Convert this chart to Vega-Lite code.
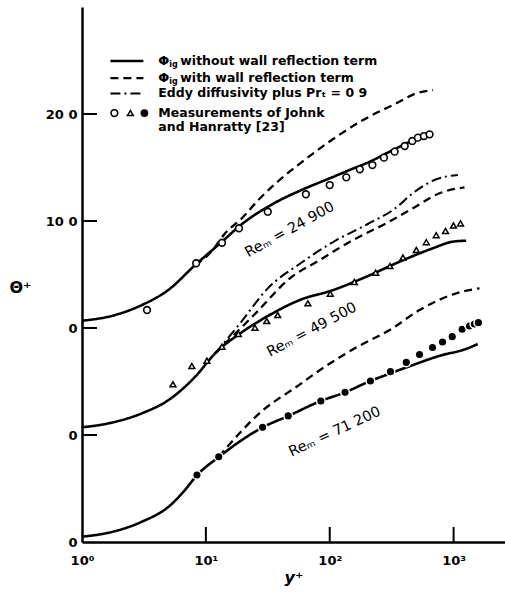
{
  "$schema": "https://vega.github.io/schema/vega-lite/v6.json",
  "width": 423,
  "height": 535,
  "autosize": {"type": "none"},
  "padding": {"left": 82, "top": 7, "right": 0, "bottom": 50},
  "background": "white",
  "config": {
    "view": {"stroke": null},
    "font": "DejaVu Sans",
    "axis": {
      "grid": false,
      "ticks": false,
      "domainColor": "black",
      "domainWidth": 2.5,
      "labelColor": "black",
      "labelFont": "DejaVu Sans",
      "labelFontWeight": "bold",
      "labelFontSize": 13,
      "titleColor": "black"
    }
  },
  "datasets": {
    "curves": [
      {"re": "24900", "kind": "solid", "x": 1.0, "y": 20.68},
      {"re": "24900", "kind": "solid", "x": 1.64, "y": 21.06},
      {"re": "24900", "kind": "solid", "x": 3.05, "y": 22.15},
      {"re": "24900", "kind": "solid", "x": 4.97, "y": 23.55},
      {"re": "24900", "kind": "solid", "x": 8.2, "y": 25.89},
      {"re": "24900", "kind": "solid", "x": 13.5, "y": 28.07},
      {"re": "24900", "kind": "solid", "x": 19.5, "y": 29.7},
      {"re": "24900", "kind": "solid", "x": 36.1, "y": 31.7},
      {"re": "24900", "kind": "solid", "x": 60.7, "y": 32.95},
      {"re": "24900", "kind": "solid", "x": 100, "y": 33.99},
      {"re": "24900", "kind": "solid", "x": 145, "y": 34.77},
      {"re": "24900", "kind": "solid", "x": 210, "y": 35.54},
      {"re": "24900", "kind": "solid", "x": 305, "y": 36.48},
      {"re": "24900", "kind": "solid", "x": 442, "y": 37.41},
      {"re": "24900", "kind": "dashed", "x": 8.2, "y": 25.89},
      {"re": "24900", "kind": "dashed", "x": 11.0, "y": 27.1},
      {"re": "24900", "kind": "dashed", "x": 14.3, "y": 28.85},
      {"re": "24900", "kind": "dashed", "x": 19.5, "y": 30.25},
      {"re": "24900", "kind": "dashed", "x": 26.5, "y": 31.96},
      {"re": "24900", "kind": "dashed", "x": 36.1, "y": 33.45},
      {"re": "24900", "kind": "dashed", "x": 61.1, "y": 35.61},
      {"re": "24900", "kind": "dashed", "x": 113.5, "y": 37.88},
      {"re": "24900", "kind": "dashed", "x": 186, "y": 39.44},
      {"re": "24900", "kind": "dashed", "x": 345, "y": 41.0},
      {"re": "24900", "kind": "dashed", "x": 500, "y": 41.93},
      {"re": "24900", "kind": "dashed", "x": 681, "y": 42.24},
      {"re": "49500", "kind": "solid", "x": 1.0, "y": 10.72},
      {"re": "49500", "kind": "solid", "x": 1.64, "y": 11.09},
      {"re": "49500", "kind": "solid", "x": 3.05, "y": 12.03},
      {"re": "49500", "kind": "solid", "x": 5.0, "y": 13.27},
      {"re": "49500", "kind": "solid", "x": 8.2, "y": 15.45},
      {"re": "49500", "kind": "solid", "x": 11.9, "y": 17.64},
      {"re": "49500", "kind": "solid", "x": 19.5, "y": 19.6},
      {"re": "49500", "kind": "solid", "x": 31.0, "y": 21.06},
      {"re": "49500", "kind": "solid", "x": 57.4, "y": 22.62},
      {"re": "49500", "kind": "solid", "x": 106.5, "y": 23.55},
      {"re": "49500", "kind": "solid", "x": 198, "y": 24.8},
      {"re": "49500", "kind": "solid", "x": 367, "y": 26.2},
      {"re": "49500", "kind": "solid", "x": 680, "y": 27.45},
      {"re": "49500", "kind": "solid", "x": 986, "y": 28.07},
      {"re": "49500", "kind": "solid", "x": 1263, "y": 28.16},
      {"re": "49500", "kind": "dashdot", "x": 11.9, "y": 17.64},
      {"re": "49500", "kind": "dashdot", "x": 18.9, "y": 20.44},
      {"re": "49500", "kind": "dashdot", "x": 31.8, "y": 23.74},
      {"re": "49500", "kind": "dashdot", "x": 58.5, "y": 26.07},
      {"re": "49500", "kind": "dashdot", "x": 110, "y": 28.13},
      {"re": "49500", "kind": "dashdot", "x": 203, "y": 29.72},
      {"re": "49500", "kind": "dashdot", "x": 335, "y": 31.15},
      {"re": "49500", "kind": "dashdot", "x": 469, "y": 32.6},
      {"re": "49500", "kind": "dashdot", "x": 724, "y": 33.9},
      {"re": "49500", "kind": "dashdot", "x": 1081, "y": 34.3},
      {"re": "49500", "kind": "dashed", "x": 11.9, "y": 17.64},
      {"re": "49500", "kind": "dashed", "x": 24.9, "y": 21.31},
      {"re": "49500", "kind": "dashed", "x": 47.7, "y": 24.64},
      {"re": "49500", "kind": "dashed", "x": 83.2, "y": 26.36},
      {"re": "49500", "kind": "dashed", "x": 154, "y": 28.22},
      {"re": "49500", "kind": "dashed", "x": 286, "y": 29.79},
      {"re": "49500", "kind": "dashed", "x": 469, "y": 31.19},
      {"re": "49500", "kind": "dashed", "x": 769, "y": 32.59},
      {"re": "49500", "kind": "dashed", "x": 1224, "y": 33.15},
      {"re": "71200", "kind": "solid", "x": 1.0, "y": 0.5},
      {"re": "71200", "kind": "solid", "x": 1.64, "y": 0.87},
      {"re": "71200", "kind": "solid", "x": 3.05, "y": 1.9},
      {"re": "71200", "kind": "solid", "x": 5.0, "y": 3.3},
      {"re": "71200", "kind": "solid", "x": 6.6, "y": 4.7},
      {"re": "71200", "kind": "solid", "x": 8.51, "y": 6.26},
      {"re": "71200", "kind": "solid", "x": 12.8, "y": 7.97},
      {"re": "71200", "kind": "solid", "x": 28.8, "y": 10.72},
      {"re": "71200", "kind": "solid", "x": 46.2, "y": 11.78},
      {"re": "71200", "kind": "solid", "x": 84.8, "y": 13.18},
      {"re": "71200", "kind": "solid", "x": 133, "y": 13.99},
      {"re": "71200", "kind": "solid", "x": 213, "y": 15.05},
      {"re": "71200", "kind": "solid", "x": 278, "y": 15.56},
      {"re": "71200", "kind": "solid", "x": 469, "y": 16.54},
      {"re": "71200", "kind": "solid", "x": 814, "y": 17.48},
      {"re": "71200", "kind": "solid", "x": 1186, "y": 17.94},
      {"re": "71200", "kind": "solid", "x": 1566, "y": 18.5},
      {"re": "71200", "kind": "dashed", "x": 12.7, "y": 7.97},
      {"re": "71200", "kind": "dashed", "x": 29.1, "y": 12.34},
      {"re": "71200", "kind": "dashed", "x": 54.0, "y": 14.51},
      {"re": "71200", "kind": "dashed", "x": 91.4, "y": 16.38},
      {"re": "71200", "kind": "dashed", "x": 168, "y": 18.25},
      {"re": "71200", "kind": "dashed", "x": 305, "y": 19.81},
      {"re": "71200", "kind": "dashed", "x": 531, "y": 21.68},
      {"re": "71200", "kind": "dashed", "x": 1050, "y": 23.24},
      {"re": "71200", "kind": "dashed", "x": 1618, "y": 23.71}
    ],
    "meas": [
      {"re": "24900", "x": 3.35, "y": 21.68},
      {"re": "24900", "x": 8.35, "y": 26.05},
      {"re": "24900", "x": 13.5, "y": 27.97},
      {"re": "24900", "x": 18.5, "y": 29.32},
      {"re": "24900", "x": 31.6, "y": 30.87},
      {"re": "24900", "x": 64.2, "y": 32.5},
      {"re": "24900", "x": 100, "y": 33.36},
      {"re": "24900", "x": 136, "y": 34.08},
      {"re": "24900", "x": 175, "y": 34.83},
      {"re": "24900", "x": 221, "y": 35.23},
      {"re": "24900", "x": 274, "y": 35.92},
      {"re": "24900", "x": 334, "y": 36.48},
      {"re": "24900", "x": 403, "y": 37.01},
      {"re": "24900", "x": 464, "y": 37.48},
      {"re": "24900", "x": 515, "y": 37.79},
      {"re": "24900", "x": 576, "y": 37.94},
      {"re": "24900", "x": 640, "y": 38.1},
      {"re": "49500", "x": 5.42, "y": 14.74},
      {"re": "49500", "x": 7.71, "y": 16.45},
      {"re": "49500", "x": 10.2, "y": 16.94},
      {"re": "49500", "x": 13.5, "y": 18.25},
      {"re": "49500", "x": 18.3, "y": 19.44},
      {"re": "49500", "x": 24.9, "y": 20.03},
      {"re": "49500", "x": 31.0, "y": 20.65},
      {"re": "49500", "x": 38.0, "y": 21.21},
      {"re": "49500", "x": 66.6, "y": 22.31},
      {"re": "49500", "x": 101, "y": 23.21},
      {"re": "49500", "x": 158, "y": 24.3},
      {"re": "49500", "x": 235, "y": 25.17},
      {"re": "49500", "x": 306, "y": 25.79},
      {"re": "49500", "x": 390, "y": 26.59},
      {"re": "49500", "x": 500, "y": 27.29},
      {"re": "49500", "x": 602, "y": 28.02},
      {"re": "49500", "x": 724, "y": 28.67},
      {"re": "49500", "x": 861, "y": 29.07},
      {"re": "49500", "x": 998, "y": 29.58},
      {"re": "49500", "x": 1137, "y": 29.78},
      {"re": "71200", "x": 8.47, "y": 6.26},
      {"re": "71200", "x": 12.7, "y": 7.97},
      {"re": "71200", "x": 28.7, "y": 10.72},
      {"re": "71200", "x": 46.2, "y": 11.78},
      {"re": "71200", "x": 84.8, "y": 13.18},
      {"re": "71200", "x": 133, "y": 13.99},
      {"re": "71200", "x": 213, "y": 15.05},
      {"re": "71200", "x": 309, "y": 15.92},
      {"re": "71200", "x": 415, "y": 16.78},
      {"re": "71200", "x": 531, "y": 17.52},
      {"re": "71200", "x": 676, "y": 18.18},
      {"re": "71200", "x": 814, "y": 18.69},
      {"re": "71200", "x": 975, "y": 19.19},
      {"re": "71200", "x": 1173, "y": 19.88},
      {"re": "71200", "x": 1342, "y": 20.19},
      {"re": "71200", "x": 1473, "y": 20.37},
      {"re": "71200", "x": 1585, "y": 20.5}
    ],
    "yTickPts": [
      {"x": 1, "y": 10}, {"x": 1, "y": 20}, {"x": 1, "y": 30}, {"x": 1, "y": 40}
    ],
    "xTickPts": [
      {"x": 10, "y": 0}, {"x": 100, "y": 0}, {"x": 1000, "y": 0}
    ],
    "legendLines": [
      {"kind": "solid", "x": 1.696, "y": 44.95},
      {"kind": "solid", "x": 3.13, "y": 44.95},
      {"kind": "dashed", "x": 1.696, "y": 43.36},
      {"kind": "dashed", "x": 3.13, "y": 43.36},
      {"kind": "dashdot", "x": 1.696, "y": 41.92},
      {"kind": "dashdot", "x": 3.13, "y": 41.92}
    ],
    "legendSym": [
      {"re": "24900", "x": 1.826, "y": 40.09},
      {"re": "49500", "x": 2.457, "y": 40.09},
      {"re": "71200", "x": 3.19, "y": 40.09}
    ],
    "legendPhi": [
      {"x": 4.13, "y": 44.95, "rest": "without wall reflection term"},
      {"x": 4.13, "y": 43.36, "rest": "with wall reflection term"}
    ],
    "legendText": [
      {"x": 4.13, "y": 41.92, "text": "Eddy diffusivity plus Prₜ = 0 9"},
      {"x": 4.13, "y": 40.09, "text": "Measurements of Johnk"},
      {"x": 4.13, "y": 38.83, "text": "and Hanratty [23]"}
    ],
    "reLabels": [
      {"re": "24900", "x": 47.7, "y": 29.16, "text": "Reₘ = 24 900"},
      {"re": "49500", "x": 71.8, "y": 19.81, "text": "Reₘ = 49 500"},
      {"re": "71200", "x": 110, "y": 10.28, "text": "Reₘ = 71 200"}
    ]
  },
  "encoding": {
    "x": {
      "field": "x", "type": "quantitative",
      "scale": {"type": "log", "domain": [1, 2600], "nice": false},
      "axis": {
        "values": [1, 10, 100, 1000],
        "labelExpr": "datum.value == 1 ? '10⁰' : datum.value == 10 ? '10¹' : datum.value == 100 ? '10²' : '10³'",
        "labelPadding": 12,
        "labelFlush": false,
        "title": "y⁺",
        "titleFontStyle": "italic",
        "titleFontWeight": "bold",
        "titleFontSize": 16,
        "titlePadding": 2
      }
    },
    "y": {
      "field": "y", "type": "quantitative",
      "scale": {"domain": [0, 50], "nice": false, "zero": false},
      "axis": {
        "values": [0, 10, 20, 30, 40],
        "labelExpr": "datum.value == 30 ? '10 0' : datum.value == 40 ? '20 0' : '0'",
        "labelPadding": 5,
        "labelFlush": false,
        "title": "Θ⁺",
        "titleAngle": 0,
        "titleAlign": "center",
        "titleBaseline": "middle",
        "titleX": -62,
        "titleY": 280,
        "titleFontSize": 16,
        "titleFontWeight": "bold"
      }
    }
  },
  "layer": [
    {
      "data": {"name": "curves"},
      "mark": {"type": "line", "color": "black", "strokeCap": "butt", "interpolate": "monotone"},
      "encoding": {
        "detail": {"field": "re", "type": "nominal"},
        "strokeDash": {"field": "kind", "type": "nominal", "scale": {"domain": ["solid", "dashed", "dashdot"], "range": [[1, 0], [8, 5], [10, 4, 2, 4]]}, "legend": null},
        "strokeWidth": {"field": "kind", "type": "nominal", "scale": {"domain": ["solid", "dashed", "dashdot"], "range": [2.6, 2, 2]}, "legend": null}
      }
    },
    {
      "data": {"name": "legendLines"},
      "mark": {"type": "line", "color": "black", "strokeCap": "butt"},
      "encoding": {
        "strokeDash": {"field": "kind", "type": "nominal", "scale": {"domain": ["solid", "dashed", "dashdot"], "range": [[1, 0], [8, 5], [10, 4, 2, 4]]}, "legend": null},
        "strokeWidth": {"field": "kind", "type": "nominal", "scale": {"domain": ["solid", "dashed", "dashdot"], "range": [2.6, 2, 2]}, "legend": null}
      }
    },
    {
      "data": {"name": "yTickPts"},
      "mark": {"type": "point", "shape": "M0,0L1,0", "filled": false, "stroke": "black", "strokeWidth": 2, "size": 900, "opacity": 1}
    },
    {
      "data": {"name": "xTickPts"},
      "mark": {"type": "point", "shape": "M0,0L0,-1", "filled": false, "stroke": "black", "strokeWidth": 2, "size": 900, "opacity": 1}
    },
    {
      "data": {"name": "meas"},
      "transform": [{"filter": "datum.re == '24900'"}],
      "mark": {"type": "point", "shape": "circle", "filled": true, "fill": "white", "stroke": "black", "strokeWidth": 1.6, "size": 45, "opacity": 1}
    },
    {
      "data": {"name": "meas"},
      "transform": [{"filter": "datum.re == '49500'"}],
      "mark": {"type": "point", "shape": "triangle-up", "filled": true, "fill": "white", "stroke": "black", "strokeWidth": 1.5, "size": 34, "opacity": 1}
    },
    {
      "data": {"name": "meas"},
      "transform": [{"filter": "datum.re == '71200'"}],
      "mark": {"type": "point", "shape": "circle", "filled": true, "fill": "black", "stroke": "white", "strokeWidth": 1.5, "size": 75, "opacity": 1}
    },
    {
      "data": {"name": "legendSym"},
      "transform": [{"filter": "datum.re == '24900'"}],
      "mark": {"type": "point", "shape": "circle", "filled": true, "fill": "white", "stroke": "black", "strokeWidth": 1.6, "size": 45, "opacity": 1}
    },
    {
      "data": {"name": "legendSym"},
      "transform": [{"filter": "datum.re == '49500'"}],
      "mark": {"type": "point", "shape": "triangle-up", "filled": true, "fill": "white", "stroke": "black", "strokeWidth": 1.5, "size": 34, "opacity": 1}
    },
    {
      "data": {"name": "legendSym"},
      "transform": [{"filter": "datum.re == '71200'"}],
      "mark": {"type": "point", "shape": "circle", "filled": true, "fill": "black", "size": 60, "opacity": 1}
    },
    {
      "data": {"name": "legendPhi"},
      "mark": {"type": "text", "text": "Φ", "align": "left", "baseline": "middle", "fontSize": 13, "fontWeight": "bold", "color": "black"}
    },
    {
      "data": {"name": "legendPhi"},
      "mark": {"type": "text", "text": "ig", "align": "left", "baseline": "middle", "fontSize": 8, "fontWeight": "bold", "dx": 11, "dy": 4, "color": "black"}
    },
    {
      "data": {"name": "legendPhi"},
      "mark": {"type": "text", "align": "left", "baseline": "middle", "fontSize": 12.5, "fontWeight": "bold", "dx": 22, "color": "black"},
      "encoding": {"text": {"field": "rest"}}
    },
    {
      "data": {"name": "legendText"},
      "mark": {"type": "text", "align": "left", "baseline": "middle", "fontSize": 12.5, "fontWeight": "bold", "color": "black"},
      "encoding": {"text": {"field": "text"}}
    },
    {
      "data": {"name": "reLabels"},
      "transform": [{"filter": "datum.re == '24900'"}],
      "mark": {"type": "text", "align": "center", "baseline": "middle", "fontSize": 14.5, "angle": -29, "color": "black"},
      "encoding": {"text": {"field": "text"}}
    },
    {
      "data": {"name": "reLabels"},
      "transform": [{"filter": "datum.re == '49500'"}],
      "mark": {"type": "text", "align": "center", "baseline": "middle", "fontSize": 14.5, "angle": -28, "color": "black"},
      "encoding": {"text": {"field": "text"}}
    },
    {
      "data": {"name": "reLabels"},
      "transform": [{"filter": "datum.re == '71200'"}],
      "mark": {"type": "text", "align": "center", "baseline": "middle", "fontSize": 14.5, "angle": -25, "color": "black"},
      "encoding": {"text": {"field": "text"}}
    }
  ]
}
